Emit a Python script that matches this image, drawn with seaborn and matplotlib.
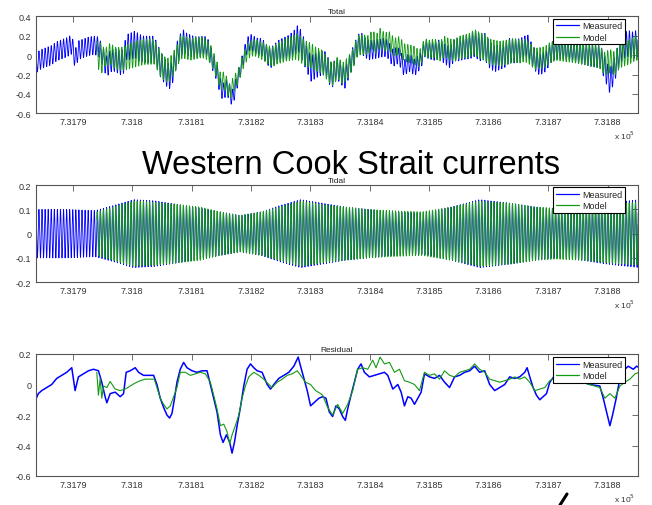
import numpy as np
import pandas as pd
import matplotlib
matplotlib.use("Agg")
import matplotlib.pyplot as plt
import seaborn as sns
from matplotlib.ticker import FixedLocator, FuncFormatter
from matplotlib.lines import Line2D

# ---------------- data ----------------
T0 = 731783.76            # datenum at left edge of the axes
X_MAX = 731885.11         # datenum at right edge
XTICKS = [7.3179, 7.3180, 7.3181, 7.3182, 7.3183, 7.3184, 7.3185, 7.3186, 7.3187, 7.3188]
M2_PERIOD = 0.5175        # days (semi-diurnal tide)

# measured residual: day offset from T0, value (m/s)
meas_res_day = [0.0, 0.44, 1.01, 1.85, 2.69, 3.54, 4.38, 5.22, 6.07, 6.63, 7.19, 8.03, 8.88, 9.72,
                10.56, 11.12, 11.68, 11.97, 12.53, 13.37, 14.22, 14.78, 15.23, 15.90, 16.75, 17.31,
                18.15, 18.99, 19.84, 20.40, 20.96, 21.52, 22.08, 22.53, 22.93, 23.32, 23.77, 24.33,
                24.89, 25.45, 26.30, 27.14, 27.99, 28.83, 29.39, 29.95, 30.51, 31.08, 31.53, 32.09,
                32.65, 33.04, 33.44, 33.89, 34.45, 35.01, 35.57, 36.14, 36.70, 37.26, 38.10, 38.95,
                39.51, 40.07, 40.91, 41.76, 42.60, 43.44, 44.17, 44.57, 45.13, 45.69, 46.25, 46.81,
                47.66,
                48.28, 48.84, 49.40, 49.96, 50.53, 51.09, 51.65, 52.10, 52.50, 53.06, 53.62, 54.18,
                54.74, 55.31, 56.15, 56.99, 57.84, 58.68, 59.24, 60.09, 60.93, 61.49, 62.05, 62.62,
                63.18, 63.74, 64.30, 64.86, 65.42, 66.27, 67.11, 67.95, 68.80, 69.64, 70.49, 71.33,
                72.17, 73.02, 73.86, 74.70, 75.55, 76.39, 77.23, 78.08, 78.92, 79.76, 80.61, 81.45,
                82.29, 82.69, 83.14, 83.70, 84.26, 84.82, 85.38, 85.95, 86.51, 87.35, 88.75, 91.00,
                93.25, 94.93, 95.50, 96.06, 96.62, 97.07, 97.63, 98.31, 98.87, 99.71, 100.56, 101.12,
                101.57]
meas_res_val = [-0.10, -0.06, -0.04, -0.02, 0.0, 0.04, 0.06, 0.08, 0.11, -0.04, 0.05, 0.07, 0.09, 0.10,
                0.09, 0.015, -0.08, -0.12, -0.06, -0.05, -0.08, -0.06, 0.08, 0.09, 0.11, 0.08,
                0.06, 0.06, 0.06, 0.0, -0.09, -0.15, -0.20, -0.22, -0.19, -0.10, 0.015, 0.10,
                0.145, 0.11, 0.09, 0.08, 0.09, 0.09, 0.0, -0.09, -0.18, -0.33, -0.38, -0.33,
                -0.38, -0.45, -0.38, -0.27, -0.15, -0.01, 0.10, 0.135, 0.11, 0.09, 0.08, 0.0,
                -0.03, 0.0, 0.04, 0.06, 0.08, 0.12, 0.18, 0.12, 0.04, -0.04, -0.14, -0.12,
                -0.09,
                -0.08, -0.09, -0.18, -0.21, -0.14, -0.16, -0.21, -0.235, -0.16, -0.07, 0.015, 0.10,
                0.135, 0.08, 0.05, 0.06, 0.07, 0.08, 0.06, -0.03, 0.0, -0.05, -0.14, -0.08,
                -0.09, -0.13, -0.09, -0.05, 0.07, 0.05, 0.04, 0.06, 0.015, -0.02, 0.05, 0.06,
                0.08, 0.09, 0.12, 0.08, 0.09, 0.0, -0.04, -0.02, 0.0, 0.05, 0.04, 0.05,
                0.08, 0.11, 0.05, -0.02, -0.07, -0.10, -0.08, -0.06, 0.015, 0.06, 0.06, 0.03,
                0.0, -0.01, -0.09, -0.18, -0.27, -0.20, -0.10, 0.04, 0.09, 0.12, 0.10, 0.12,
                0.11]

# model residual
model_res_day = [10.28, 10.56, 10.84, 11.12, 11.41, 11.97, 12.53, 13.37, 14.22, 15.06, 15.90, 16.75,
                 17.59, 18.43, 19.28, 19.95, 20.40, 20.96, 21.52, 22.08, 22.65, 23.21, 23.77, 24.33,
                 25.18, 26.02, 26.86, 27.71, 28.55, 29.39, 29.95, 30.51, 31.08, 31.64, 32.20, 32.65,
                 33.04, 33.60, 34.17, 34.73, 35.29, 35.85, 36.70, 37.54, 38.38, 39.23, 39.79, 40.63,
                 41.48, 42.32, 43.16, 44.01, 44.57, 45.41, 46.25, 47.10, 47.94,
                 48.28, 49.12, 49.96, 50.81, 51.65, 52.50, 53.34, 54.18, 55.03, 55.87, 56.71, 57.27,
                 57.95, 58.68, 59.52, 60.37, 61.21, 62.05, 62.90, 63.74, 64.58, 65.42, 66.27, 67.11,
                 67.95, 68.80, 69.64, 70.49, 71.33, 72.17, 73.02, 73.86, 74.70, 75.55, 76.39, 77.23,
                 78.08, 78.92, 79.76, 80.61, 81.45, 82.29, 83.14, 83.98, 84.82, 85.67, 86.51, 87.63,
                 90.44, 93.25, 94.93, 95.78, 96.62, 97.46, 98.31, 99.15, 99.99, 100.84, 101.57]
model_res_val = [0.08, -0.07, 0.04, -0.09, -0.01, -0.02, 0.02, -0.03, -0.04, -0.03, -0.01, 0.01,
                 0.025, 0.035, 0.035, 0.035, -0.02, -0.09, -0.13, -0.16, -0.14, -0.08, -0.02, 0.08,
                 0.08, 0.06, 0.07, 0.08, 0.07, 0.015, -0.07, -0.16, -0.27, -0.26, -0.31, -0.39,
                 -0.33, -0.27, -0.20, -0.09, -0.01, 0.05, 0.08, 0.06, 0.035, 0.0, -0.02, 0.015,
                 0.035, 0.06, 0.07, 0.09, 0.06, 0.015, 0.0, -0.04, -0.06,
                 -0.07, -0.15, -0.20, -0.13, -0.19, -0.13, -0.04, 0.10, 0.11, 0.10, 0.16, 0.11,
                 0.18, 0.135, 0.145, 0.08, 0.10, 0.025, 0.015, 0.0, -0.04, 0.08, 0.06, 0.07,
                 0.035, 0.09, 0.06, 0.05, 0.08, 0.09, 0.10, 0.135, 0.10, 0.08, 0.035, 0.025,
                 0.015, 0.025, 0.035, 0.05, 0.035, 0.05, 0.015, -0.04, -0.03, -0.02, 0.025, 0.05,
                 0.03, 0.0, -0.02, -0.09, -0.06, -0.09, -0.01, 0.015, 0.035, 0.07, 0.08]

# tidal amplitude envelope (spring / neap)
tide_day_meas = [0, 5, 10, 13, 16.5, 20, 24, 27.7, 31, 34.4, 38, 41, 44.6, 48.3, 52, 56, 60, 65,
                 70, 74.7, 80, 84, 87.6, 92, 96, 101.6]
tide_amp_meas = [0.10, 0.10, 0.095, 0.115, 0.14, 0.135, 0.12, 0.105, 0.09, 0.075, 0.09, 0.115, 0.14,
                 0.125, 0.11, 0.10, 0.09, 0.085, 0.11, 0.14, 0.125, 0.11, 0.10, 0.11, 0.125, 0.14]
tide_day_model = [10.28, 13, 16.5, 20, 24, 27.7, 31, 34.4, 38, 41, 44.6, 48.3, 52, 56, 60, 65, 70,
                  74.7, 80, 84, 87.6, 92, 96, 101.6]
tide_amp_model = [0.09, 0.11, 0.135, 0.13, 0.12, 0.11, 0.09, 0.075, 0.09, 0.11, 0.135, 0.12, 0.11,
                  0.10, 0.095, 0.09, 0.11, 0.135, 0.125, 0.11, 0.105, 0.11, 0.12, 0.13]
MEAS_PHASE_LAG = 0.03     # days

# ---------------- build series ----------------
def tidal(day0, day1, env_day, env_amp, lag):
    d = np.arange(day0, day1, M2_PERIOD / 20.0)
    amp = np.interp(d, env_day, env_amp)
    return d, amp * np.cos(2 * np.pi * (d - lag) / M2_PERIOD)

dm, tm = tidal(0.0, 101.6, tide_day_meas, tide_amp_meas, MEAS_PHASE_LAG)
dg, tg = tidal(10.28, 101.6, tide_day_model, tide_amp_model, 0.0)
tot_m = tm + np.interp(dm, meas_res_day, meas_res_val)
tot_g = tg + np.interp(dg, model_res_day, model_res_val)

def frame(days, vals):
    return pd.DataFrame({"x": (T0 + np.asarray(days)) / 1e5, "y": np.asarray(vals)})

BLUE = "#0000ff"
GREEN = "#139a13"

sns.set_style("white")
plt.rcParams["font.family"] = ["Liberation Sans", "DejaVu Sans"]

fig = plt.figure(figsize=(6.52, 5.06), dpi=100)
L, W = 35.7 / 652, (638 - 35.7) / 652
def pos(top, bot):
    return [L, 1 - bot / 506, W, (bot - top) / 506]

panels = [
    ("Total", pos(17.3, 114.3), (-0.6, 0.4), [-0.6, -0.4, -0.2, 0, 0.2, 0.4],
     frame(dm, tot_m), frame(dg, tot_g), 0.6, 0.6),
    ("Tidal", pos(186, 283.3), (-0.2, 0.2), [-0.2, -0.1, 0, 0.1, 0.2],
     frame(dm, tm), frame(dg, tg), 0.6, 0.6),
    ("Residual", pos(355, 477), (-0.6, 0.2), [-0.6, -0.4, -0.2, 0, 0.2],
     frame(meas_res_day, meas_res_val), frame(model_res_day, model_res_val), 1.1, 0.8),
]

fmt_x = FuncFormatter(lambda v, p: ("%.4f" % v).rstrip("0"))
fmt_y = FuncFormatter(lambda v, p: "%g" % round(v, 3))

for title, rect, ylim, yticks, dfm, dfg, lwm, lwg in panels:
    ax = fig.add_axes(rect)
    sns.lineplot(data=dfm, x="x", y="y", ax=ax, color=BLUE, lw=lwm, sort=False,
                 estimator=None, legend=False)
    sns.lineplot(data=dfg, x="x", y="y", ax=ax, color=GREEN, lw=lwg, sort=False,
                 estimator=None, legend=False)
    ax.set_xlim(T0 / 1e5, X_MAX / 1e5)
    ax.set_ylim(*ylim)
    ax.xaxis.set_major_locator(FixedLocator(XTICKS))
    ax.yaxis.set_major_locator(FixedLocator(yticks))
    ax.xaxis.set_major_formatter(fmt_x)
    ax.yaxis.set_major_formatter(fmt_y)
    ax.set_xlabel("")
    ax.set_ylabel("")
    ax.tick_params(direction="in", length=4, width=0.6, top=True, right=True,
                   labelsize=6.5, pad=3, color="#555555", labelcolor="#333333")
    for s in ax.spines.values():
        s.set_color("#555555")
        s.set_linewidth(0.8)
    ax.set_title(title, fontsize=6, pad=2.5, color="#222222")
    ax.annotate("x 10$^5$", xy=(1, 0), xycoords="axes fraction", xytext=(-2, -11),
                textcoords="offset points", ha="right", va="top", fontsize=6, color="#333333")
    handles = [Line2D([], [], color=BLUE, lw=0.9), Line2D([], [], color=GREEN, lw=0.9)]
    leg = ax.legend(handles, ["Measured", "Model"], loc="upper right",
                    bbox_to_anchor=((625 - 35.7) / 602.3, 0.975), fontsize=6.5,
                    frameon=True, fancybox=False, framealpha=1, edgecolor="black",
                    borderpad=0.3, labelspacing=0.25, handlelength=2.6, handletextpad=0.3,
                    borderaxespad=0)
    leg.get_frame().set_linewidth(0.8)

fig.text(351 / 652, 1 - 166 / 506, "Western Cook Strait currents", ha="center", va="center",
         fontsize=23.5, color="black")
fig.add_artist(Line2D([567 / 652, 560 / 652], [1 - 495 / 506, 0.0], color="black", lw=2.2,
                      transform=fig.transFigure))

fig.savefig("out.png", dpi=100)
